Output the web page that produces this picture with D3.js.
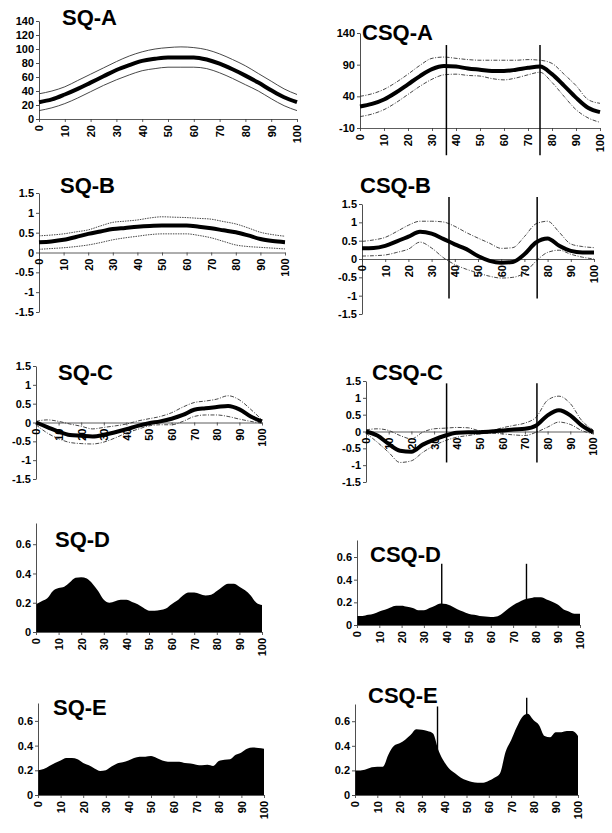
<!DOCTYPE html>
<html>
<head>
<meta charset="utf-8">
<script src="https://cdn.jsdelivr.net/npm/d3@7"></script>
<style>
  body { margin: 0; background: #fff; }
  text { font-family: "Liberation Sans", Arial, sans-serif; font-weight: bold; fill: #000; }
</style>
</head>
<body>
<svg id="fig" width="612" height="833"></svg>
<script>
// percent of cycle
const xTicks = [0, 10, 20, 30, 40, 50, 60, 70, 80, 90, 100]
const x5 = [0, 5, 10, 15, 20, 25, 30, 35, 40, 45, 50, 55, 60, 65, 70, 75, 80, 85, 90, 95, 100]
const x25 = [0, 2.5, 5, 7.5, 10, 12.5, 15, 17.5, 20, 22.5, 25, 27.5, 30, 32.5, 35, 37.5, 40, 42.5, 45, 47.5,
  50, 52.5, 55, 57.5, 60, 62.5, 65, 67.5, 70, 72.5, 75, 77.5, 80, 82.5, 85, 87.5, 90, 92.5, 95, 97.5, 100]

// A
const sqA_mean  = [24, 28, 35, 43, 52, 61, 70, 77, 83, 86, 88, 88, 88, 85, 79, 71, 62, 52, 41, 31, 24]
const sqA_upper = [36, 40, 46, 55, 64, 73, 82, 90, 96, 100, 102, 103, 102, 99, 93, 85, 76, 65, 54, 43, 35]
const sqA_lower = [12, 16, 22, 30, 39, 48, 56, 63, 69, 72, 74, 74, 74, 72, 66, 58, 49, 40, 29, 19, 12]
const csqA_mean  = [24, 28, 35, 46, 59, 72, 83, 88, 87, 84, 82, 80, 80, 82, 85, 87, 75, 57, 38, 22, 15]
const csqA_upper = [40, 44, 51, 62, 75, 89, 100, 102, 100, 98, 97, 97, 97, 97, 98, 97, 92, 75, 57, 35, 29]
const csqA_lower = [8, 12, 19, 30, 43, 56, 67, 74, 75, 73, 72, 68, 66, 69, 74, 78, 62, 40, 19, 6, -1]

// B
const sqB_mean  = [0.26, 0.28, 0.32, 0.39, 0.47, 0.53, 0.59, 0.62, 0.65, 0.67, 0.68, 0.68, 0.68, 0.65, 0.61, 0.56, 0.51, 0.43, 0.34, 0.29, 0.26]
const sqB_upper = [0.42, 0.44, 0.47, 0.52, 0.57, 0.67, 0.76, 0.79, 0.82, 0.87, 0.9, 0.89, 0.88, 0.86, 0.84, 0.78, 0.72, 0.62, 0.51, 0.45, 0.41]
const sqB_lower = [0.08, 0.1, 0.12, 0.15, 0.19, 0.25, 0.32, 0.37, 0.41, 0.45, 0.47, 0.47, 0.47, 0.43, 0.37, 0.28, 0.19, 0.15, 0.13, 0.11, 0.09]
const csqB_mean  = [0.29, 0.3, 0.36, 0.48, 0.61, 0.74, 0.69, 0.55, 0.4, 0.27, 0.08, -0.05, -0.1, -0.08, 0.13, 0.45, 0.56, 0.36, 0.22, 0.18, 0.18]
const csqB_upper = [0.48, 0.52, 0.59, 0.75, 0.92, 1.03, 1.03, 1.01, 0.89, 0.72, 0.57, 0.43, 0.29, 0.31, 0.61, 0.96, 1.03, 0.73, 0.41, 0.34, 0.31]
const csqB_lower = [0.08, 0.09, 0.11, 0.18, 0.27, 0.46, 0.3, 0.04, -0.15, -0.28, -0.38, -0.47, -0.52, -0.5, -0.38, -0.06, 0.18, 0.24, 0.13, 0.05, 0]

// C
const sqC_mean  = [0, -0.12, -0.24, -0.33, -0.35, -0.37, -0.33, -0.26, -0.18, -0.09, -0.02, 0.03, 0.1, 0.2, 0.34, 0.38, 0.41, 0.44, 0.35, 0.16, 0.03]
const sqC_upper = [0.03, 0.07, 0.03, -0.04, -0.1, -0.17, -0.13, -0.09, -0.04, 0.04, 0.1, 0.16, 0.26, 0.41, 0.53, 0.57, 0.62, 0.71, 0.6, 0.35, 0.07]
const sqC_lower = [-0.06, -0.28, -0.43, -0.53, -0.56, -0.57, -0.52, -0.41, -0.28, -0.18, -0.09, -0.06, -0.06, 0.03, 0.16, 0.2, 0.2, 0.16, 0.09, 0.03, -0.02]
const csqC_mean  = [0, -0.12, -0.37, -0.57, -0.6, -0.39, -0.24, -0.12, -0.04, -0.02, -0.02, 0, 0.03, 0.06, 0.08, 0.18, 0.48, 0.63, 0.48, 0.18, -0.02]
const csqC_upper = [0.05, 0.08, 0.03, -0.12, -0.22, -0.02, 0.08, 0.1, 0.12, 0.11, 0.03, 0.03, 0.11, 0.18, 0.25, 0.43, 0.93, 1.05, 0.83, 0.33, 0.05]
const csqC_lower = [-0.05, -0.32, -0.62, -0.92, -0.87, -0.62, -0.42, -0.27, -0.17, -0.12, -0.07, -0.05, -0.07, -0.1, -0.12, -0.02, 0.13, 0.28, 0.21, 0.03, -0.07]

// D
const sqD = [0.19, 0.21, 0.23, 0.28, 0.3, 0.31, 0.34, 0.37, 0.375, 0.365, 0.33, 0.28, 0.22, 0.2, 0.21, 0.22, 0.22, 0.205, 0.19, 0.165,
  0.145, 0.145, 0.15, 0.16, 0.19, 0.215, 0.25, 0.27, 0.27, 0.26, 0.25, 0.255, 0.28, 0.31, 0.33, 0.33, 0.31, 0.285, 0.25, 0.2, 0.185]
const csqD = [0.08, 0.08, 0.09, 0.1, 0.12, 0.135, 0.155, 0.17, 0.17, 0.16, 0.15, 0.13, 0.13, 0.15, 0.17, 0.19, 0.185, 0.165, 0.14, 0.12,
  0.1, 0.09, 0.08, 0.075, 0.07, 0.075, 0.1, 0.14, 0.175, 0.2, 0.225, 0.235, 0.245, 0.245, 0.225, 0.205, 0.18, 0.14, 0.12, 0.1, 0.1]
const csqD_spikeX = [38, 76]
const csqD_spikeTop = [0.54, 0.54]

// E
const sqE = [0.2, 0.21, 0.235, 0.26, 0.28, 0.3, 0.3, 0.29, 0.26, 0.24, 0.215, 0.195, 0.2, 0.23, 0.255, 0.265, 0.28, 0.3, 0.31, 0.31,
  0.315, 0.3, 0.28, 0.27, 0.27, 0.27, 0.26, 0.255, 0.245, 0.24, 0.245, 0.235, 0.275, 0.285, 0.29, 0.325, 0.345, 0.375, 0.385, 0.38, 0.375]
const csqE = [0.2, 0.2, 0.21, 0.225, 0.23, 0.23, 0.33, 0.4, 0.42, 0.45, 0.49, 0.535, 0.53, 0.52, 0.5, 0.36, 0.27, 0.21, 0.175, 0.14,
  0.12, 0.105, 0.1, 0.1, 0.115, 0.14, 0.175, 0.35, 0.445, 0.55, 0.635, 0.66, 0.61, 0.57, 0.48, 0.47, 0.51, 0.51, 0.52, 0.52, 0.48]
const csqE_spikeX = [37, 77]
const csqE_spikeTop = [0.72, 0.79]

// phase markers on the CSQ line plots
const csqA_marks = [36, 75]
const csqB_marks = [37.5, 75.5]
const csqC_marks = [35.5, 75.3]

const aTicks = [0, 20, 40, 60, 80, 100, 120, 140]
const csqATicks = [-10, 40, 90, 140]
const bcTicks = [-1.5, -1, -0.5, 0, 0.5, 1, 1.5]
const deTicks = [0, 0.2, 0.4, 0.6]

const panels = [
  {title: "SQ-A", kind: "line", xs: x5, mean: sqA_mean, upper: sqA_upper, lower: sqA_lower,
   dom: [0, 140], ticks: aTicks, axisAt: 0, box: [39, 297, 21, 119], tpos: [62, 25], dash: null},
  {title: "CSQ-A", kind: "line", xs: x5, mean: csqA_mean, upper: csqA_upper, lower: csqA_lower,
   dom: [-10, 140], ticks: csqATicks, axisAt: -10, box: [360, 600, 33, 128], tpos: [362, 40], dash: "4,1.5,1,1.5",
   marks: csqA_marks, markSpan: [-53, 121]},
  {title: "SQ-B", kind: "line", xs: x5, mean: sqB_mean, upper: sqB_upper, lower: sqB_lower,
   dom: [-1.5, 1.5], ticks: bcTicks, axisAt: 0, box: [39, 285, 193, 312], tpos: [60, 193], dash: "1.5,1"},
  {title: "CSQ-B", kind: "line", xs: x5, mean: csqB_mean, upper: csqB_upper, lower: csqB_lower,
   dom: [-1.5, 1.5], ticks: bcTicks, axisAt: 0, box: [362, 594, 204, 314], tpos: [360, 193], dash: "4,1.5,1,1.5",
   marks: csqB_marks, markSpan: [-1.08, 1.69]},
  {title: "SQ-C", kind: "line", xs: x5, mean: sqC_mean, upper: sqC_upper, lower: sqC_lower,
   dom: [-1.5, 1.5], ticks: bcTicks, axisAt: 0, box: [36, 262, 366, 479], tpos: [58, 380], dash: "4,1.5,1,1.5"},
  {title: "CSQ-C", kind: "line", xs: x5, mean: csqC_mean, upper: csqC_upper, lower: csqC_lower,
   dom: [-1.5, 1.5], ticks: bcTicks, axisAt: 0, box: [366, 593, 381, 482], tpos: [372, 380], dash: "4,1.5,1,1.5",
   marks: csqC_marks, markSpan: [-0.92, 1.43]},
  {title: "SQ-D", kind: "area", xs: x25, vals: sqD, dom: [0, 0.745], ticks: deTicks, axisAt: 0,
   box: [36, 262, 523, 632], tpos: [55, 547]},
  {title: "CSQ-D", kind: "area", xs: x25, vals: csqD, dom: [0, 0.75], ticks: deTicks, axisAt: 0,
   box: [357, 580, 540, 625], tpos: [370, 562], spikeX: csqD_spikeX, spikeTop: csqD_spikeTop},
  {title: "SQ-E", kind: "area", xs: x25, vals: sqE, dom: [0, 0.745], ticks: deTicks, axisAt: 0,
   box: [38, 264, 703, 795], tpos: [53, 715]},
  {title: "CSQ-E", kind: "area", xs: x25, vals: csqE, dom: [0, 0.74], ticks: deTicks, axisAt: 0,
   box: [355, 578, 704, 795], tpos: [368, 703], spikeX: csqE_spikeX, spikeTop: csqE_spikeTop}
]

const svg = d3.select("#fig")
svg.append("rect").attr("width", 612).attr("height", 833).attr("fill", "#fff")

panels.forEach(function(p) {
  const [l, r, t, b] = p.box
  const x = d3.scaleLinear().domain([0, 100]).range([l, r])
  const y = d3.scaleLinear().domain(p.dom).range([b, t])
  const g = svg.append("g")

  if (p.kind === "area") {
    const pts = p.xs.map((d, i) => [d, p.vals[i]])
    const area = d3.area()
      .x(d => x(d[0]))
      .y0(y(0))
      .y1(d => y(d[1]))
      .curve(d3.curveMonotoneX)
    g.append("path").attr("d", area(pts)).attr("fill", "#000")
    if (p.spikeX) {
      p.spikeX.forEach(function(sx, i) {
        g.append("line")
          .attr("x1", x(sx)).attr("x2", x(sx))
          .attr("y1", y(0)).attr("y2", y(p.spikeTop[i]))
          .attr("stroke", "#000").attr("stroke-width", 1.4)
      })
    }
  }

  // y axis
  const yAxis = d3.axisLeft(y).tickValues(p.ticks).tickSize(3).tickSizeOuter(0)
    .tickFormat(d => String(d))
  const ya = g.append("g").attr("transform", "translate(" + l + ",0)").call(yAxis)
  ya.selectAll("text").attr("font-size", 11).attr("x", -5)
  ya.select(".domain").attr("stroke", "#222").attr("stroke-width", 0.8)
  ya.selectAll(".tick line").attr("stroke", "#222").attr("stroke-width", 0.8)

  // x axis
  const xAxis = d3.axisBottom(x).tickValues(xTicks).tickSize(3).tickSizeOuter(0)
  const xa = g.append("g").attr("transform", "translate(0," + y(p.axisAt) + ")").call(xAxis)
  xa.select(".domain").attr("stroke", "#333").attr("stroke-width", 0.8)
  xa.selectAll(".tick line").attr("stroke", "#333").attr("stroke-width", 0.8)
  xa.selectAll("text")
    .attr("font-size", 11)
    .attr("transform", "rotate(-90)")
    .attr("text-anchor", "end")
    .attr("x", -6).attr("y", 0).attr("dy", "0.36em")

  if (p.kind === "line") {
    const line = d3.line()
      .x(d => x(d[0]))
      .y(d => y(d[1]))
      .curve(d3.curveMonotoneX)
    ;[p.upper, p.lower].forEach(function(s) {
      g.append("path")
        .attr("d", line(p.xs.map((d, i) => [d, s[i]])))
        .attr("fill", "none").attr("stroke", "#333").attr("stroke-width", 0.9)
        .attr("stroke-dasharray", p.dash)
    })
    g.append("path")
      .attr("d", line(p.xs.map((d, i) => [d, p.mean[i]])))
      .attr("fill", "none").attr("stroke", "#000").attr("stroke-width", 4)
    if (p.marks) {
      p.marks.forEach(function(m) {
        g.append("line")
          .attr("x1", x(m)).attr("x2", x(m))
          .attr("y1", y(p.markSpan[0])).attr("y2", y(p.markSpan[1]))
          .attr("stroke", "#000").attr("stroke-width", 1.5)
      })
    }
  }

  g.append("text")
    .attr("x", p.tpos[0]).attr("y", p.tpos[1])
    .attr("font-size", 22)
    .text(p.title)
})
</script>
</body>
</html>
